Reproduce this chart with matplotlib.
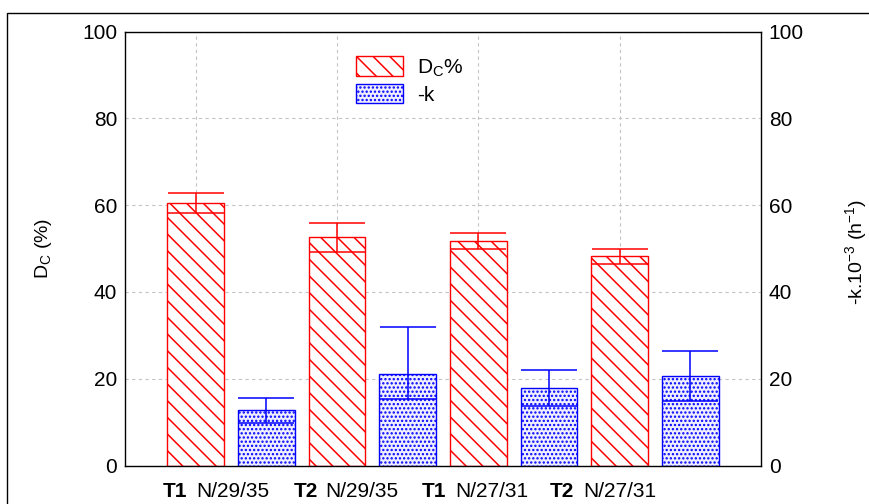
import matplotlib
matplotlib.use('Agg')
import matplotlib.pyplot as plt
from matplotlib.patches import Rectangle, Patch

plt.rcParams['font.family'] = ['Liberation Sans', 'DejaVu Sans']
plt.rcParams['hatch.linewidth'] = 1.1

# Datos: degradación (Dc %) y constante cinética (-k) por tratamiento
grupos = ['N/29/35', 'N/29/35', 'N/27/31', 'N/27/31']
tratamientos = ['T1', 'T2', 'T1', 'T2']
dc = [60.5, 52.6, 51.7, 48.2]
dc_err = [2.35, 3.3, 1.85, 1.7]
k = [12.7, 21.0, 17.9, 20.6]
k_err_inf = [2.8, 5.75, 4.3, 5.7]
k_err_sup = [2.8, 10.8, 4.2, 5.7]

rojo = '#ff0000'
azul = '#0000ff'
relleno_azul = '#eeeeff'

fig = plt.figure(figsize=(8.69, 5.04), dpi=100)
ax = fig.add_axes([125 / 869, 38.5 / 504, 636 / 869, 434 / 504])

pos_dc = [2 * i for i in range(len(dc))]
pos_k = [2 * i + 1 for i in range(len(k))]

ax.bar(pos_dc, dc, width=0.8, facecolor='white', edgecolor=rojo,
       hatch='\\\\', linewidth=1.0, zorder=2)
ax.bar(pos_k, k, width=0.8, facecolor=relleno_azul, edgecolor=azul,
       hatch='....', linewidth=1.0, zorder=2)

ax.errorbar(pos_dc, dc, yerr=dc_err, fmt='none', ecolor=rojo,
            elinewidth=1.1, capsize=20.5, capthick=1.1, zorder=3)
ax.errorbar(pos_k, k, yerr=[k_err_inf, k_err_sup], fmt='none', ecolor=azul,
            elinewidth=1.1, capsize=20.5, capthick=1.1, zorder=3)

ax.set_xlim(-1, 8)
ax.set_ylim(0, 100)
ax.set_yticks([0, 20, 40, 60, 80, 100])
ax.set_xticks(pos_dc)
ax.set_xticklabels([])
ax.tick_params(axis='both', length=0, labelsize=15, pad=5.5)
ax.tick_params(axis='y', right=True, labelright=True)
ax.grid(True, color='#c4c4c4', linestyle=(0, (3, 3)), linewidth=0.8, zorder=0)
ax.set_axisbelow(True)
for s in ax.spines.values():
    s.set_color('black')
    s.set_linewidth(1.0)

ax.set_ylabel(r'D$_\mathregular{C}$ (%)', fontsize=14)
ax.yaxis.set_label_coords(-0.112, 0.5)
fig.text(857 / 869, 0.5, r'-k.10$^\mathregular{-3}$ (h$^\mathregular{-1}$)',
         rotation=90, fontsize=14, ha='center', va='center')

# Etiquetas de los grupos bajo el eje
x_trat = [-0.462, 1.382, 3.198, 5.014]
x_grupo = [0.015, 1.83, 3.67, 5.485]
trans = ax.get_xaxis_transform()
for t, g, xt, xg in zip(tratamientos, grupos, x_trat, x_grupo):
    ax.text(xt, -0.072, t, transform=trans, fontsize=15, fontweight='bold',
            ha='left', va='baseline')
    ax.text(xg, -0.072, g, transform=trans, fontsize=15,
            ha='left', va='baseline')

leyenda = [
    Patch(facecolor='white', edgecolor=rojo, hatch='\\\\', label=r'D$_\mathregular{C}$%'),
    Patch(facecolor=relleno_azul, edgecolor=azul, hatch='....', label='-k'),
]
ax.legend(handles=leyenda, loc='upper left', bbox_to_anchor=(0.363, 0.943),
          frameon=False, fontsize=15, handlelength=2.25, handleheight=1.05,
          handletextpad=0.7, labelspacing=0.25, borderpad=0, borderaxespad=0)

# Marco exterior de la figura
fig.patches.append(Rectangle((7 / 869, -0.5), 2, 0.5 + (504 - 13) / 504,
                             transform=fig.transFigure, fill=False,
                             edgecolor='black', linewidth=1.0))

fig.savefig('out.png', dpi=100)
